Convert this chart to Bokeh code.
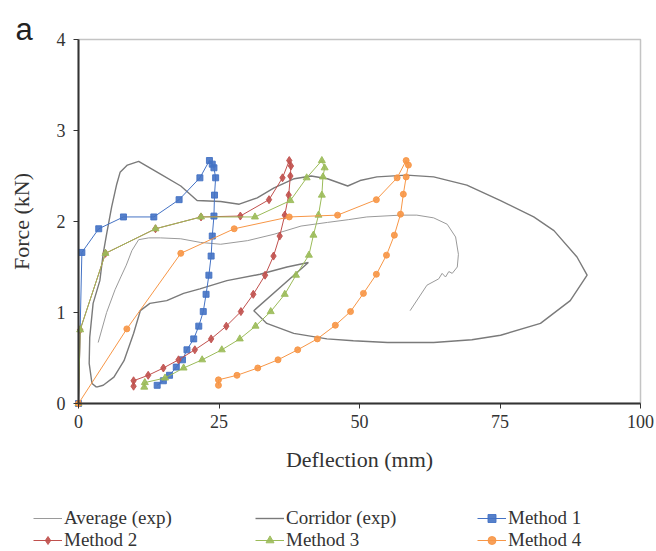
from bokeh.plotting import figure
from bokeh.models import Range1d, FixedTicker, Legend, LegendItem, Label, BoxAnnotation
from bokeh.embed import file_html
from bokeh.resources import INLINE

# ---------------- data ----------------
x_ticks = [0, 25, 50, 75, 100]
y_ticks = [0, 1, 2, 3, 4]
x_limits = [0, 100]
y_limits = [0, 4]

corridor_x = [3.2, 4.4, 6.3, 8.1, 9.8, 11.0, 12.7, 15.7, 18.7, 21.6, 26.4, 32.3, 37.1, 40.9,
              31.2, 33.5, 38.3, 44.2, 48.9, 55.0, 63.2, 70.0, 75.1, 82.2, 87.5, 90.5,
              88.7, 84.6, 81.0, 75.1, 69.1, 63.2, 58.4, 53.1, 50.1, 47.9, 44.3, 41.4,
              38.4, 34.8, 31.8, 28.6, 25.3, 21.1, 18.2, 14.6, 10.7, 8.7, 7.4, 6.8, 5.9,
              5.0, 4.4, 3.8, 2.6, 2.0, 1.9, 2.4, 3.2]
corridor_y = [0.18, 0.20, 0.29, 0.47, 0.77, 1.02, 1.10, 1.13, 1.21, 1.26, 1.35, 1.42, 1.50, 1.55,
              1.02, 0.88, 0.77, 0.71, 0.69, 0.67, 0.67, 0.70, 0.75, 0.88, 1.13, 1.41,
              1.61, 1.90, 2.05, 2.23, 2.40, 2.49, 2.51, 2.49, 2.45, 2.39, 2.47, 2.50,
              2.47, 2.37, 2.26, 2.19, 2.22, 2.23, 2.39, 2.52, 2.66, 2.62, 2.54, 2.41, 2.16,
              1.86, 1.65, 1.35, 1.10, 0.73, 0.44, 0.22, 0.18]

average_x = [3.5, 5.0, 6.5, 7.6, 8.5, 9.5, 10.7, 12.5, 14.6, 18.2, 21.7, 25.3, 30.1, 34.8,
             39.6, 44.3, 48.0, 51.3, 57.3, 60.2, 63.2, 65.6, 67.1, 67.6, 67.4, 66.5, 65.9,
             65.3, 64.7, 64.1, 62.0, 59.0]
average_y = [0.67, 1.00, 1.25, 1.40, 1.52, 1.68, 1.80, 1.82, 1.82, 1.81, 1.77, 1.75, 1.79, 1.86,
             1.95, 1.99, 2.02, 2.05, 2.07, 2.07, 2.04, 1.97, 1.83, 1.64, 1.50, 1.43, 1.45,
             1.39, 1.43, 1.37, 1.30, 1.02]

m1_x = [0, 0.6, 3.6, 8.0, 13.4, 17.9, 21.6, 23.3, 23.8, 24.1, 24.4, 24.2, 24.1, 23.8, 23.6,
        23.2, 22.7, 22.2, 21.4, 20.5, 19.3, 18.5, 17.4, 16.2, 15.1, 14.0]
m1_y = [0, 1.66, 1.92, 2.05, 2.05, 2.24, 2.48, 2.67, 2.63, 2.59, 2.48, 2.29, 2.06, 1.84, 1.62,
        1.41, 1.20, 1.01, 0.85, 0.71, 0.59, 0.48, 0.40, 0.31, 0.25, 0.20]

m2_x = [0, 0.3, 4.8, 13.7, 21.8, 28.8, 33.9, 36.3, 37.5, 37.8, 37.7, 37.4, 36.7, 35.8, 34.7,
        33.2, 31.1, 28.9, 26.3, 23.6, 20.7, 17.8, 15.1, 12.4, 9.8, 9.8]
m2_y = [0, 0.81, 1.65, 1.92, 2.05, 2.06, 2.24, 2.48, 2.67, 2.61, 2.50, 2.29, 2.07, 1.84, 1.62,
        1.41, 1.20, 1.01, 0.85, 0.71, 0.59, 0.48, 0.39, 0.31, 0.25, 0.19]

m3_x = [0, 0.3, 4.8, 13.7, 21.8, 31.4, 37.7, 40.6, 43.3, 43.8, 43.5, 43.3, 42.7, 41.8, 41.0,
        38.7, 36.7, 34.2, 31.5, 28.7, 25.5, 22.0, 18.7, 15.4, 11.8, 11.7]
m3_y = [0, 0.81, 1.65, 1.92, 2.05, 2.05, 2.23, 2.48, 2.67, 2.59, 2.49, 2.29, 2.07, 1.85, 1.63,
        1.41, 1.20, 1.01, 0.85, 0.71, 0.59, 0.48, 0.39, 0.28, 0.23, 0.18]

m4_x = [0, 8.6, 18.2, 27.7, 37.5, 46.1, 53.0, 56.7, 58.3, 58.7, 58.3, 57.8, 57.3, 56.2, 54.8,
        53.0, 50.7, 48.4, 45.7, 42.5, 39.0, 35.5, 31.9, 28.2, 24.9, 24.9]
m4_y = [0, 0.82, 1.65, 1.92, 2.05, 2.07, 2.24, 2.48, 2.67, 2.62, 2.49, 2.30, 2.08, 1.85, 1.63,
        1.42, 1.21, 1.01, 0.86, 0.71, 0.59, 0.48, 0.39, 0.31, 0.26, 0.20]

legend_labels = ["Average (exp)", "Corridor (exp)", "Method 1",
                 "Method 2", "Method 3", "Method 4"]
method_colors = ["#4472C4", "#C0504D", "#9BBB59", "#F79646"]
method_markers = ["square", "diamond", "triangle", "circle"]
average_color = "#9a9a9a"
corridor_color = "#7a7a7a"

SERIF = "Liberation Serif"

# ---------------- layout (pixels of the 656x551 canvas) ----------------
W, H = 656, 551
AX_L, AX_R, AX_T, AX_B = 78, 640, 39, 403       # where the axes box sits
kx = (AX_R - AX_L) / (x_limits[1] - x_limits[0])
ky = (AX_B - AX_T) / (y_limits[1] - y_limits[0])
x_start = x_limits[0] - AX_L / kx
x_end = x_limits[1] + (W - AX_R) / kx
y_start = y_limits[0] - (H - AX_B) / ky
y_end = y_limits[1] + AX_T / ky


def px_x(px):
    return x_start + px / kx


def px_y(py):
    return y_end - py / ky


p = figure(width=W, height=H, x_range=Range1d(x_start, x_end), y_range=Range1d(y_start, y_end),
           toolbar_location=None, output_backend="svg", min_border=0)
p.title.visible = False
p.grid.visible = False
p.outline_line_color = None
p.background_fill_color = "white"
p.border_fill_color = "white"

# axes box
p.add_layout(BoxAnnotation(left=x_limits[0], right=x_limits[1], bottom=y_limits[0], top=y_limits[1],
                           fill_alpha=0, line_color="#3a3a3a", line_width=1.5, level="underlay"))

for ax, ticks, lim in ((p.xaxis[0], x_ticks, x_limits), (p.yaxis[0], y_ticks, y_limits)):
    ax.fixed_location = 0
    ax.bounds = (lim[0], lim[1])
    ax.ticker = FixedTicker(ticks=ticks)
    ax.minor_tick_line_color = None
    ax.major_tick_in = 0
    ax.major_tick_out = 5
    ax.major_tick_line_color = "#333333"
    ax.axis_line_color = "#333333"
    ax.axis_line_width = 2
    ax.major_label_text_font = SERIF
    ax.major_label_text_font_size = "18px"
    ax.major_label_text_color = "#333333"
    ax.axis_label_text_font = SERIF
    ax.axis_label_text_font_style = "normal"
    ax.axis_label_text_font_size = "22px"
    ax.axis_label_text_color = "#333333"

p.xaxis.axis_label = "Deflection (mm)"
p.xaxis.major_label_standoff = 6
p.xaxis.axis_label_standoff = 16
p.yaxis.axis_label = "Force (kN)"
p.yaxis.major_label_standoff = 8
p.yaxis.axis_label_standoff = 20

r_corr = p.line(corridor_x, corridor_y, line_color=corridor_color, line_width=1.4)
r_avg = p.line(average_x, average_y, line_color=average_color, line_width=1.0)

series = [(m1_x, m1_y), (m2_x, m2_y), (m3_x, m3_y), (m4_x, m4_y)]
sizes = {"square": 6, "diamond": 8, "triangle": 7, "circle": 6}
method_renderers = []
for (xs, ys), col, mk in zip(series, method_colors, method_markers):
    rl = p.line(xs, ys, line_color=col, line_width=1.0)
    rs = p.scatter(xs, ys, marker=mk, size=sizes[mk], fill_color=col, line_color=col, alpha=0.9)
    method_renderers.append([rl, rs])

item_renderers = [[r_avg], [r_corr]] + method_renderers
items = [LegendItem(label=lab, renderers=rr) for lab, rr in zip(legend_labels, item_renderers)]
# the legend fills column by column: reorder so that rows read as in the reference
n_cols = 3
ordered = [items[r * n_cols + c] for c in range(n_cols) for r in range(2)]
legend = Legend(items=ordered, ncols=n_cols, location=(33, 0),
                glyph_width=29, glyph_height=20, label_standoff=2,
                label_width=191, label_height=22, spacing=0, padding=0, margin=0,
                border_line_color=None, background_fill_alpha=0,
                label_text_font=SERIF, label_text_font_size="19px",
                label_text_color="#333333")
p.add_layout(legend, "center")

p.add_layout(Label(x=px_x(15), y=px_y(29), text="a", text_font="Liberation Sans",
                   text_font_size="31px", text_color="#222222", text_baseline="alphabetic"))

open("out.html", "w").write(file_html(p, INLINE))
